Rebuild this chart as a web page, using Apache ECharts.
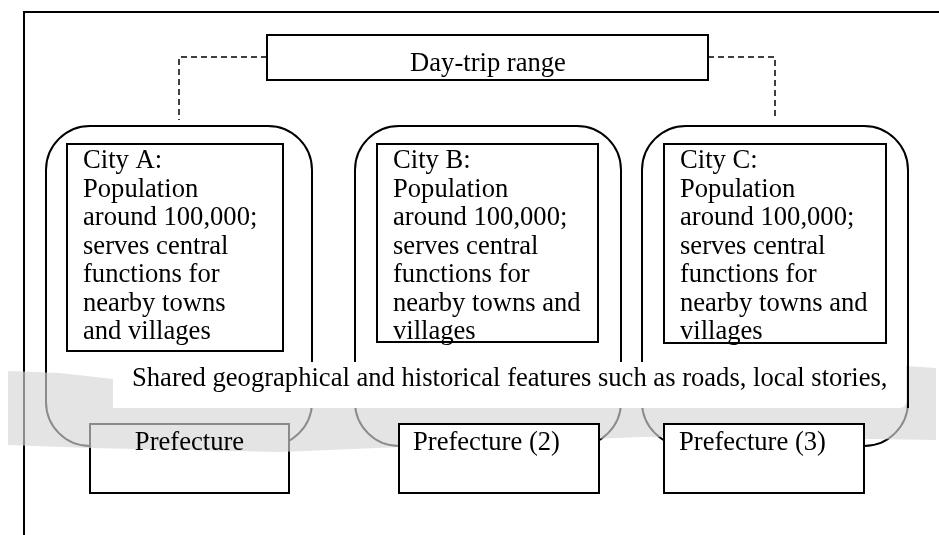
<!DOCTYPE html>
<html>
<head>
<meta charset="utf-8">
<script src="https://cdn.jsdelivr.net/npm/echarts@6/dist/echarts.min.js"></script>
<style>
html,body{margin:0;padding:0;background:#fff;}
#main{width:939px;height:535px;}
</style>
</head>
<body>
<div id="main"></div>
<script>
// ---- Diagram content ----
var topLabel = 'Day-trip range';
var cityNames = ['City A:', 'City B:', 'City C:'];
var cityLinesA = ['Population', 'around 100,000;', 'serves central', 'functions for', 'nearby towns', 'and villages'];
var cityLinesB = ['Population', 'around 100,000;', 'serves central', 'functions for', 'nearby towns and', 'villages'];
var cityLinesC = ['Population', 'around 100,000;', 'serves central', 'functions for', 'nearby towns and', 'villages'];
var prefectureLabels = ['Prefecture', 'Prefecture (2)', 'Prefecture (3)'];
var sharedText = 'Shared geographical and historical features such as roads, local stories,';

// ---- Layout (positions/styles only) ----
var FONT = '26.6px "Liberation Serif", "Times New Roman", serif';
var LW = 2;
var outerX = [46, 355, 642], outerW = 266, outerY = 126, outerH = 320, outerR = 44;
var innerBoxes = [[67, 144, 216, 207], [377, 144, 221, 198], [664, 144, 222, 199]];
var prefBoxes = [[90, 424, 199, 69], [399, 424, 200, 69], [664, 424, 200, 69]];
var cityLineSets = [cityLinesA, cityLinesB, cityLinesC];

var g = [];
// outer frame
g.push({type: 'polyline', z: 1, shape: {points: [[24, 535], [24, 12], [939, 12]]},
  style: {stroke: '#000', lineWidth: LW, fill: null}});
// top box
g.push({type: 'rect', z: 2, shape: {x: 267, y: 35, width: 441, height: 45},
  style: {stroke: '#000', lineWidth: LW, fill: '#fff'}});
g.push({type: 'text', z: 10, style: {text: topLabel, x: 488, y: 64, font: FONT, fill: '#000',
  align: 'center', verticalAlign: 'middle'}});
// dashed connectors
g.push({type: 'polyline', z: 2, shape: {points: [[267, 57], [179, 57], [179, 120]]},
  style: {stroke: '#000', lineWidth: 1.5, lineDash: [6, 4], fill: null}});
g.push({type: 'polyline', z: 2, shape: {points: [[708, 57], [775, 57], [775, 120]]},
  style: {stroke: '#000', lineWidth: 1.5, lineDash: [6, 4], fill: null}});
// rounded city regions
outerX.forEach(function (x) {
  g.push({type: 'rect', z: 2, shape: {x: x, y: outerY, width: outerW, height: outerH, r: outerR},
    style: {stroke: '#000', lineWidth: LW, fill: null}});
});
// inner city boxes + texts
innerBoxes.forEach(function (b, i) {
  g.push({type: 'rect', z: 3, shape: {x: b[0], y: b[1], width: b[2], height: b[3]},
    style: {stroke: '#000', lineWidth: LW, fill: '#fff'}});
  g.push({type: 'text', z: 10, style: {text: [cityNames[i]].concat(cityLineSets[i]).join('\n'),
    x: b[0] + 16, y: 147, font: FONT, lineHeight: 28.5, fill: '#000', align: 'left', verticalAlign: 'top'}});
});
// Prefecture A box (sits under the band)
g.push({type: 'rect', z: 3, shape: {x: prefBoxes[0][0], y: prefBoxes[0][1], width: prefBoxes[0][2], height: prefBoxes[0][3]},
  style: {stroke: '#000', lineWidth: LW, fill: '#fff'}});
// gray band
g.push({type: 'polygon', z: 4, shape: {points: [
  [8, 371], [60, 373], [113, 379], [500, 376], [906, 366], [936, 368],
  [936, 440], [870, 439], [640, 437], [450, 445], [280, 452], [90, 448], [8, 445]
]},
  style: {fill: '#d6d6d6', opacity: 0.65, stroke: null}});
// white label box over band
g.push({type: 'rect', z: 5, shape: {x: 113, y: 362, width: 793, height: 46, r: [0, 0, 6, 0]},
  style: {fill: '#fff', stroke: null}});
// right side of City C region stays solid over the label box
g.push({type: 'line', z: 6, shape: {x1: 908, y1: 362, x2: 908, y2: 408},
  style: {stroke: '#000', lineWidth: LW}});
g.push({type: 'text', z: 10, style: {text: sharedText, x: 132, y: 379, font: FONT, fill: '#000',
  align: 'left', verticalAlign: 'middle'}});
// Prefecture B and C boxes over the band
[1, 2].forEach(function (i) {
  var b = prefBoxes[i];
  g.push({type: 'rect', z: 6, shape: {x: b[0], y: b[1], width: b[2], height: b[3]},
    style: {stroke: '#000', lineWidth: LW, fill: '#fff'}});
});
// prefecture labels
g.push({type: 'text', z: 10, style: {text: prefectureLabels[0], x: 189.5, y: 443, font: FONT, fill: '#000',
  align: 'center', verticalAlign: 'middle'}});
g.push({type: 'text', z: 10, style: {text: prefectureLabels[1], x: 413, y: 443, font: FONT, fill: '#000',
  align: 'left', verticalAlign: 'middle'}});
g.push({type: 'text', z: 10, style: {text: prefectureLabels[2], x: 679, y: 443, font: FONT, fill: '#000',
  align: 'left', verticalAlign: 'middle'}});

var chart = echarts.init(document.getElementById('main'), null, {renderer: 'canvas'});
chart.setOption({
  backgroundColor: '#fff',
  animation: false,
  graphic: {elements: g}
});
</script>
</body>
</html>
